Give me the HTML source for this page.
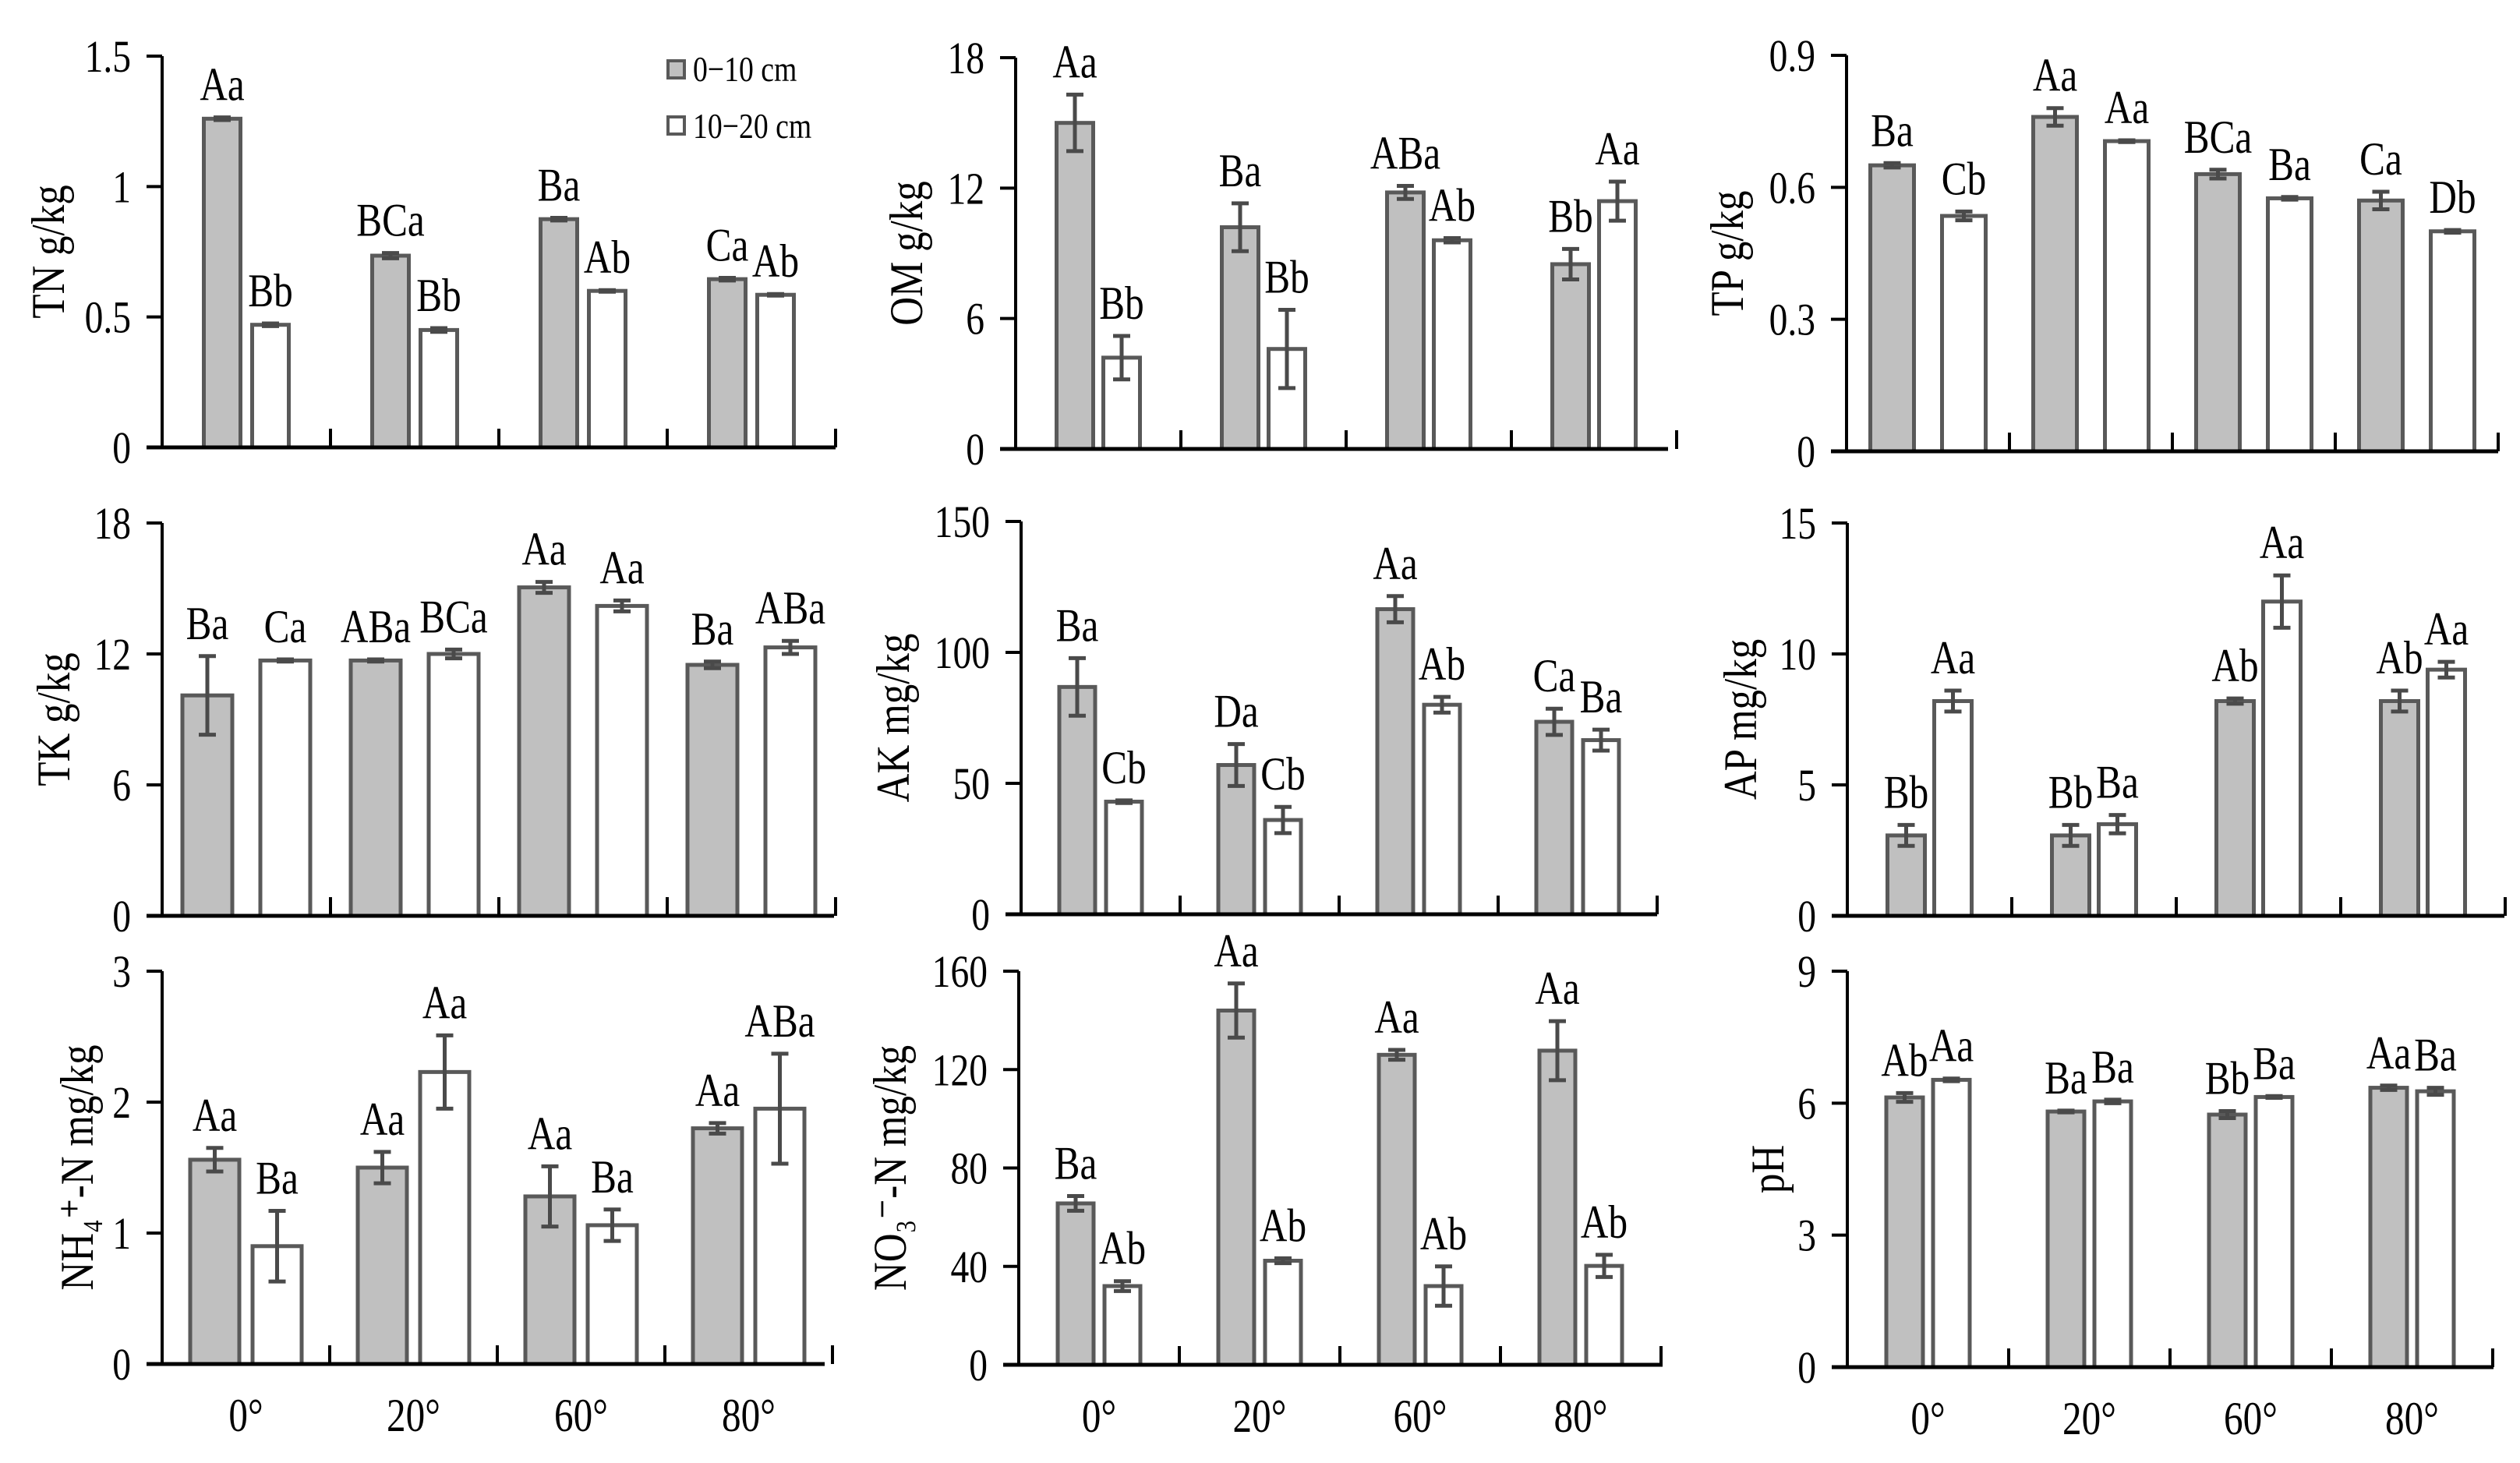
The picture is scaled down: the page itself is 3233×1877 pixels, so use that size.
<!DOCTYPE html>
<html><head><meta charset="utf-8"><style>
html,body{margin:0;padding:0;background:#fff;}
svg{display:block;font-family:"Liberation Serif",serif;}
</style></head><body>
<svg id="chart" width="3233" height="1877" viewBox="0 0 3233 1877" xmlns="http://www.w3.org/2000/svg">
<g>
<rect x="857" y="78" width="21" height="22" fill="#c0c0c0" stroke="#595959" stroke-width="4"/>
<text transform="translate(889,104) scale(0.82,1)" font-size="46">0−10 cm</text>
<rect x="857" y="150" width="21" height="22" fill="#fff" stroke="#595959" stroke-width="4"/>
<text transform="translate(889,177) scale(0.82,1)" font-size="46">10−20 cm</text>
</g>
</svg>
<script>
const categories = ["0°","20°","60°","80°"];
// TN
const tnTop=[1.26,0.735,0.875,0.645], tnTopErr=[0.005,0.01,0.005,0.005];
const tnSub=[0.47,0.45,0.60,0.585], tnSubErr=[0.005,0.007,0.003,0.003];
const tnTopLbl=["Aa","BCa","Ba","Ca"], tnSubLbl=["Bb","Bb","Ab","Ab"];
const tnTicks=["0","0.5","1","1.5"];
// OM
const omTop=[15.0,10.2,11.8,8.5], omTopErr=[1.3,1.1,0.3,0.7];
const omSub=[4.2,4.6,9.6,11.4], omSubErr=[1.0,1.8,0.1,0.9];
const omTopLbl=["Aa","Ba","ABa","Bb"], omSubLbl=["Bb","Bb","Ab","Aa"];
const omTicks=["0","6","12","18"];
// TP
const tpTop=[0.65,0.76,0.63,0.57], tpTopErr=[0.005,0.02,0.01,0.02];
const tpSub=[0.535,0.705,0.575,0.50], tpSubErr=[0.01,0.002,0.003,0.003];
const tpTopLbl=["Ba","Aa","BCa","Ca"], tpSubLbl=["Cb","Aa","Ba","Db"];
const tpTicks=["0","0.3","0.6","0.9"];
// TK
const tkTop=[10.1,11.7,15.05,11.5], tkTopErr=[1.8,0.05,0.25,0.15];
const tkSub=[11.7,12.0,14.2,12.3], tkSubErr=[0.05,0.2,0.25,0.3];
const tkTopLbl=["Ba","ABa","Aa","Ba"], tkSubLbl=["Ca","BCa","Aa","ABa"];
const tkTicks=["0","6","12","18"];
// AK
const akTop=[86.8,57,116.5,73.5], akTopErr=[11,8,5,5];
const akSub=[43,36,80,66.5], akSubErr=[0.5,5,3,4];
const akTopLbl=["Ba","Da","Aa","Ca"], akSubLbl=["Cb","Cb","Ab","Ba"];
const akTicks=["0","50","100","150"];
// AP
const apTop=[3.07,3.07,8.2,8.2], apTopErr=[0.4,0.4,0.1,0.4];
const apSub=[8.2,3.5,12.0,9.4], apSubErr=[0.4,0.35,1.0,0.3];
const apTopLbl=["Bb","Bb","Ab","Ab"], apSubLbl=["Aa","Ba","Aa","Aa"];
const apTicks=["0","5","10","15"];
// NH4
const nhTop=[1.56,1.50,1.28,1.80], nhTopErr=[0.09,0.12,0.23,0.04];
const nhSub=[0.90,2.23,1.06,1.95], nhSubErr=[0.27,0.28,0.12,0.42];
const nhTopLbl=["Aa","Aa","Aa","Aa"], nhSubLbl=["Ba","Aa","Ba","ABa"];
const nhTicks=["0","1","2","3"];
// NO3
const noTop=[65.6,144,126,127.7], noTopErr=[3,11,2,12];
const noSub=[32,42.3,32,40.2], noSubErr=[2,1,8,4.5];
const noTopLbl=["Ba","Aa","Aa","Aa"], noSubLbl=["Ab","Ab","Ab","Ab"];
const noTicks=["0","40","80","120","160"];
// pH
const phTop=[6.13,5.81,5.74,6.35], phTopErr=[0.1,0.02,0.08,0.05];
const phSub=[6.53,6.04,6.14,6.27], phSubErr=[0.03,0.04,0.02,0.08];
const phTopLbl=["Ab","Ba","Bb","Aa"], phSubLbl=["Aa","Ba","Ba","Ba"];
const phTicks=["0","3","6","9"];

const NS="http://www.w3.org/2000/svg";
const svg=document.getElementById('chart');
function mk(tag,attrs,parent){const e=document.createElementNS(NS,tag);for(const k in attrs)e.setAttribute(k,attrs[k]);(parent||svg).appendChild(e);return e;}
function txt(parent,x,y,str,size,anchor,rot,extra){
  const tf=rot?`translate(${x},${y}) rotate(-90) scale(0.85,1)`:`translate(${x},${y}) scale(0.82,1)`;
  const a={transform:tf,'font-size':size,'text-anchor':anchor};
  if(extra)for(const k in extra)a[k]=extra[k];
  const t=mk('text',a,parent);t.textContent=str;return t;
}

const panels=[
 {id:'tn',title:'TN  g/kg',ax:208,top:72,zero:574,end:1072,cw:216,off:31,bw:47,tx:62,max:1.5,a:tnTop,ae:tnTopErr,b:tnSub,be:tnSubErr,al:tnTopLbl,bl:tnSubLbl,ticks:tnTicks},
 {id:'om',title:'OM g/kg',ax:1303,top:74,zero:576,end:2140,cw:212,off:30,bw:47,tx:1163,max:18,a:omTop,ae:omTopErr,b:omSub,be:omSubErr,al:omTopLbl,bl:omSubLbl,ticks:omTicks},
 {id:'tp',title:'TP  g/kg',ax:2369,top:71,zero:579,end:3205,cw:209,off:46,bw:56,tx:2216,max:0.9,a:tpTop,ae:tpTopErr,b:tpSub,be:tpSubErr,al:tpTopLbl,bl:tpSubLbl,ticks:tpTicks},
 {id:'tk',title:'TK g/kg',ax:208,top:671,zero:1175,end:1070,cw:216,off:50,bw:64,tx:69,max:18,a:tkTop,ae:tkTopErr,b:tkSub,be:tkSubErr,al:tkTopLbl,bl:tkSubLbl,ticks:tkTicks},
 {id:'ak',title:'AK mg/kg',ax:1310,top:669,zero:1173,end:2126,cw:204,off:30,bw:46,tx:1146,max:150,a:akTop,ae:akTopErr,b:akSub,be:akSubErr,al:akTopLbl,bl:akSubLbl,ticks:akTicks},
 {id:'ap',title:'AP mg/kg',ax:2370,top:671,zero:1175,end:3213,cw:211,off:30,bw:48,tx:2233,max:15,a:apTop,ae:apTopErr,b:apSub,be:apSubErr,al:apTopLbl,bl:apSubLbl,ticks:apTicks},
 {id:'nh4',title:'NH₄⁺-N mg/kg',ax:208,top:1246,zero:1750,end:1058,cw:215,off:40,bw:63,tx:99,max:3,a:nhTop,ae:nhTopErr,b:nhSub,be:nhSubErr,al:nhTopLbl,bl:nhSubLbl,ticks:nhTicks,xl:true},
 {id:'no3',title:'NO₃⁻-N  mg/kg',ax:1307,top:1246,zero:1751,end:2133,cw:206,off:30,bw:46,tx:1142,max:160,a:noTop,ae:noTopErr,b:noSub,be:noSubErr,al:noTopLbl,bl:noSubLbl,ticks:noTicks,xl:true},
 {id:'ph',title:'pH',ax:2370,top:1246,zero:1754,end:3199,cw:207,off:30,bw:47,tx:2268,max:9,a:phTop,ae:phTopErr,b:phSub,be:phSubErr,al:phTopLbl,bl:phSubLbl,ticks:phTicks,xl:true}
];

panels.forEach(p=>{
  const g=mk('g',{});
  
  
  const y=v=>p.zero-(v/p.max)*(p.zero-p.top);
  const cx=i=>p.ax+p.cw*(i+0.5);
  const t=txt(g,p.tx+20,(p.top+p.zero)/2,p.title,60,'middle',true);
  
  
  const n=p.ticks.length-1;
  p.ticks.forEach((lbl,k)=>{
    const v=p.max*k/n, yy=y(v);
    const tk=mk('line',{x1:p.ax-20,x2:p.ax,y1:yy,y2:yy,stroke:'#000','stroke-width':4},g);
    
    
    const tl=txt(g,p.ax-40,yy+20,lbl,58,'end',false);
    
    
  });
  const series=[[p.a,p.ae,p.al,'#c0c0c0',-1,'top-layer'],[p.b,p.be,p.bl,'#ffffff',1,'sub-layer']];
  series.forEach(([vals,errs,lbls,fill,sgn,nm])=>{
    vals.forEach((v,i)=>{
      const c=cx(i)+sgn*p.off, yt=y(v);
      const r=mk('rect',{x:c-p.bw/2,y:yt,width:p.bw,height:p.zero-yt,fill:fill,stroke:'#595959','stroke-width':5},g);
      
      
      const e=errs[i], y1=y(v+e), y2=y(v-e);
      const eb=mk('path',{d:`M${c},${y1}V${y2}M${c-11},${y1}H${c+11}M${c-11},${y2}H${c+11}`,stroke:'#4a4a4a','stroke-width':5,fill:'none'},g);
      
      
      const lb=txt(g,c,Math.min(y1,yt)-22,lbls[i],60,'middle',false);
      
      
    });
  });
  const xa=mk('line',{x1:p.ax-20,x2:p.end,y1:p.zero,y2:p.zero,stroke:'#000','stroke-width':5},g);
  
  
  const ya=mk('line',{x1:p.ax,x2:p.ax,y1:p.top,y2:p.zero,stroke:'#000','stroke-width':4},g);
  
  
  for(let i=1;i<=categories.length;i++){
    const sx=p.ax+p.cw*i;
    const s=mk('line',{x1:sx,x2:sx,y1:p.zero-24,y2:p.zero,stroke:'#000','stroke-width':4},g);
    
    
  }
  if(p.xl){
    categories.forEach((c,i)=>{
      const xl=txt(g,cx(i),p.zero+86,c,60,'middle',false);
      
      
    });
  }
});
</script>
</body></html>
